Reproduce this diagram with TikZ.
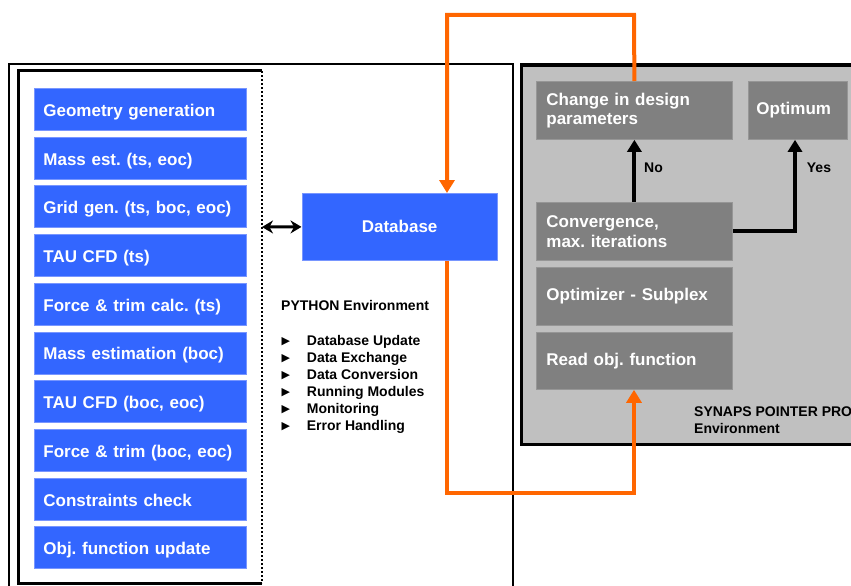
\documentclass[tikz,border=0pt]{standalone}
\usepackage{fontspec}
\setmainfont{Liberation Sans}
\newfontfamily\symfont{DejaVu Sans}
\usetikzlibrary{arrows.meta}
\definecolor{boxblue}{RGB}{51,102,255}
\definecolor{boxblueedge}{RGB}{120,150,255}
\definecolor{panelgray}{RGB}{192,192,192}
\definecolor{boxgray}{RGB}{128,128,128}
\definecolor{boxgrayedge}{RGB}{150,150,150}
\definecolor{flow}{RGB}{255,102,0}
\frenchspacing
\begin{document}
\begin{tikzpicture}[x=1pt,y=-1pt,
  bluebox/.style={draw=boxblueedge, line width=0.8pt, fill=boxblue, text=white,
    font=\fontsize{17}{20}\selectfont\bfseries, anchor=north west,
    minimum width=212pt, minimum height=42pt, text width=194pt,
    text height=15pt, text depth=1pt,
    inner xsep=9pt, inner ysep=0pt, align=left},
  graybox/.style={draw=boxgrayedge, line width=0.8pt, fill=boxgray, text=white,
    font=\fontsize{17}{19.5}\selectfont\bfseries, anchor=north west,
    inner ysep=0pt, align=left},
  smalltext/.style={font=\fontsize{14}{17}\selectfont\bfseries, inner sep=0pt, anchor=base west},
  bul/.style={font=\symfont\fontsize{11}{17}\selectfont, inner sep=0pt, anchor=base west},
  flowline/.style={draw=flow, line width=4pt},
  blackarrow/.style={draw=black, line width=4pt, -{Triangle[length=12pt,width=14pt]}}
]
\clip (0,0) rectangle (851,586);
% outer frame
\draw[line width=2pt] (9,600) -- (9,64.5) -- (513,64.5) -- (513,600);
% inner left frame
\draw[line width=3pt] (262,71) -- (18.5,71) -- (18.5,583) -- (262,583);
\draw[line width=2pt, dotted] (262,71) -- (262,583);
\coordinate (frameR) at (262,227);
% right panel
\draw[fill=panelgray, line width=3.5pt] (521.5,65) rectangle (880,444.5);

% blue boxes
\node[bluebox] (g1) at (34,88.0) {Geometry generation};
\node[bluebox] (g2) at (34,136.7) {Mass est. (ts, eoc)};
\node[bluebox] (g3) at (34,185.4) {Grid gen. (ts, boc, eoc)};
\node[bluebox] (g4) at (34,234.1) {TAU CFD (ts)};
\node[bluebox] (g5) at (34,282.8) {Force \& trim calc. (ts)};
\node[bluebox] (g6) at (34,331.5) {Mass estimation (boc)};
\node[bluebox] (g7) at (34,380.2) {TAU CFD (boc, eoc)};
\node[bluebox] (g8) at (34,428.9) {Force \& trim (boc, eoc)};
\node[bluebox] (g9) at (34,477.6) {Constraints check};
\node[bluebox] (g10) at (34,526.3) {Obj. function update};

% database
\node[draw=boxblueedge, line width=0.8pt, fill=boxblue, text=white,
  font=\fontsize{17}{20}\selectfont\bfseries, anchor=north west,
  minimum width=195.5pt, minimum height=67pt, inner sep=0pt] (db) at (301.5,193) {Database};

% python text
\node[smalltext] (py) at (281,310.7) {PYTHON Environment};
\foreach \t [count=\i from 0] in {Database Update, Data Exchange, Data Conversion, Running Modules, Monitoring, Error Handling}{
  \node[bul] (bl\i) at (281.5,{344.5+17*\i}) {▶};
  \node[smalltext] (bt\i) at (306.7,{345+17*\i}) {\t};
}

% gray boxes
\node[graybox, minimum width=196pt, minimum height=58pt, text width=176pt, inner xsep=10pt] (chg) at (536,81) {Change in design\\parameters};
\node[graybox, minimum width=99pt, minimum height=58pt, text width=83pt, inner xsep=8pt] (opt) at (748,81) {Optimum};
\node[graybox, minimum width=196pt, minimum height=58pt, text width=176pt, inner xsep=10pt] (conv) at (536,202) {Convergence,\\max. iterations};
\node[graybox, minimum width=196pt, minimum height=58pt, text width=176pt, inner xsep=10pt] (optz) at (536,267) {Optimizer - Subplex};
\node[graybox, minimum width=196pt, minimum height=57pt, text width=176pt, inner xsep=10pt] (rof) at (536,332) {Read obj. function};

% labels
\node[smalltext] (no) at (644,172.7) {No};
\node[smalltext] (yes) at (806.7,172.7) {Yes};
\node[smalltext] (syn1) at (694,416.7) {SYNAPS POINTER PRO};
\node[smalltext] (syn2) at (694,433.3) {Environment};

% black arrows
\draw[blackarrow] (conv.north) -- (chg.south);
\draw[blackarrow] (conv.east) -- (795,0 |- conv.east) -- (795,0 |- opt.south);
\draw[line width=3pt, {Stealth[length=11pt,width=13pt]}-{Stealth[length=11pt,width=13pt]}] (frameR) -- (db.west);

% orange flow
\draw[flowline, -{Triangle[length=13pt,width=15pt]}] (chg.north) -- (634,15) -- (447,15) -- (447,0 |- db.north);
\draw[flowline, -{Triangle[length=13pt,width=15pt]}] (447,0 |- db.south) -- (447,493) -- (634,493) -- (634,0 |- rof.south);
\end{tikzpicture}
\end{document}
